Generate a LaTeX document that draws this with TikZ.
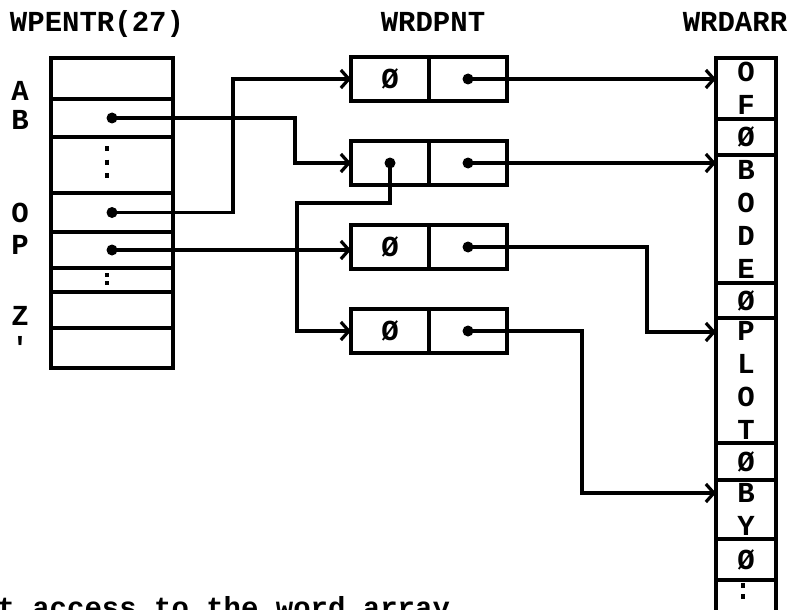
\documentclass[tikz,border=0pt]{standalone}
\usepackage{fontspec}
\setmonofont{Liberation Mono}
\usetikzlibrary{arrows.meta,positioning}

\begin{document}
\begin{tikzpicture}[x=1pt,y=-1pt,
  font=\ttfamily\bfseries\fontsize{29}{33}\selectfont,
  box/.style={draw,line width=3.2pt,inner sep=0pt,outer sep=0pt},
  slot/.style={box,minimum width=122pt},
  half/.style={box,minimum width=78pt,minimum height=44pt},
  chr/.style={box,minimum width=60pt,align=center},
  hd/.style={anchor=base},
  pt/.style={circle,fill,inner sep=0pt,minimum size=11pt},
  wire/.style={line width=3.2pt},
  ptr/.style={wire,-{Straight Barb[length=8pt,width=18pt]}},
  skip/.style={wire,dash pattern=on 5pt off 8.5pt}]
  \path[use as bounding box] (0,0) rectangle (788,610);
  \clip (0,0) rectangle (788,610);
  % headings
  \node[hd] (tEntr) at (97,32) {WPENTR(27)};
  \node[hd] (tPnt) at (433,32) {WRDPNT};
  \node[hd] (tArr) at (735,32) {WRDARR};
  % WPENTR table
  \node[slot,minimum height=41pt] (sA) at (112,78.5) {};
  \node[slot,minimum height=38pt,below=0pt of sA] (sB) {};
  \node[slot,minimum height=56pt,below=0pt of sB] (sGap) {};
  \node[slot,minimum height=39pt,below=0pt of sGap] (sO) {};
  \node[slot,minimum height=36pt,below=0pt of sO] (sP) {};
  \node[slot,minimum height=24pt,below=0pt of sP] (sGap2) {};
  \node[slot,minimum height=36pt,below=0pt of sGap2] (sZ) {};
  \node[slot,minimum height=40pt,below=0pt of sZ] (sQ) {};
  \draw[skip] ([xshift=-5pt,yshift=-9pt]sGap.north) -- ([xshift=-5pt,yshift=15pt]sGap.south);
  \draw[wire,dash pattern=on 4pt off 4pt] ([xshift=-5pt,yshift=-5pt]sGap2.north) -- ([xshift=-5pt,yshift=4pt]sGap2.south);
  \node[hd] (lA) at (20,100) {A};
  \node[hd] (lB) at (20,129) {B};
  \node[hd] (lO) at (20,222) {O};
  \node[hd] (lP) at (20,254) {P};
  \node[hd] (lZ) at (20,325) {Z};
  \node[hd] (lQ) at (20,357) {'};
  \node[pt] (dB) at (sB) {};
  \node[pt] (dO) at (sO) {};
  \node[pt] (dP) at (sP) {};
  % WRDPNT records
  \node[half] (n1) at (390,79) {Ø};
  \node[half,right=0pt of n1] (n1r) {};
  \node[half,below=40pt of n1] (n2) {};
  \node[half,right=0pt of n2] (n2r) {};
  \node[half,below=40pt of n2] (n3) {Ø};
  \node[half,right=0pt of n3] (n3r) {};
  \node[half,below=40pt of n3] (n4) {Ø};
  \node[half,right=0pt of n4] (n4r) {};
  \node[pt] (d1) at (n1r) {};
  \node[pt] (d2l) at (n2) {};
  \node[pt] (d2) at (n2r) {};
  \node[pt] (d3) at (n3r) {};
  \node[pt] (d4) at (n4r) {};
  % WRDARR column
  \node[chr,minimum height=61pt] (wOF) at (746,88.5) {O\\F};
  \node[chr,minimum height=36pt,below=0pt of wOF] (wE1) {Ø};
  \node[chr,minimum height=128pt,below=0pt of wE1] (wBODE) {B\\O\\D\\E};
  \node[chr,minimum height=35pt,below=0pt of wBODE] (wE2) {Ø};
  \node[chr,minimum height=125pt,below=0pt of wE2] (wPLOT) {P\\L\\O\\T};
  \node[chr,minimum height=37pt,below=0pt of wPLOT] (wE3) {Ø};
  \node[chr,minimum height=59pt,below=0pt of wE3] (wBY) {B\\Y};
  \node[chr,minimum height=41pt,below=0pt of wBY] (wE4) {Ø};
  \node[chr,minimum height=40pt,below=0pt of wE4] (wMore) {};
  \draw[wire,dash pattern=on 5pt off 6pt] ([xshift=-3pt,yshift=-3pt]wMore.north) -- ([xshift=-3pt,yshift=18pt]wMore.south);
  \coordinate (inP) at ([yshift=-14pt]wPLOT.north west);
  \coordinate (inBY) at ([yshift=-13pt]wBY.north west);
  % pointers
  \draw[ptr] (dB.center) -| ([xshift=-56pt]n2.west) -- (n2.west);
  \draw[ptr] (dO.center) -| ([xshift=-118pt]n1.west) -- (n1.west);
  \draw[ptr] (dP.center) -- (dP -| n3.west);
  \draw[ptr] (d2l.center) |- ([xshift=-54pt,yshift=-18pt]n2.south west) |- (n4.west);
  \draw[ptr] (d1.center) -- (d1 -| wOF.west);
  \draw[ptr] (d2.center) -- (d2 -| wBODE.west);
  \draw[ptr] (d3.center) -| ([xshift=-69pt]inP) -- (inP);
  \draw[ptr] (d4.center) -| ([xshift=-134pt]inBY) -- (inBY);
  \node[anchor=base west] (cap) at (-6,617) {t access to the word array};
\end{tikzpicture}
\end{document}
